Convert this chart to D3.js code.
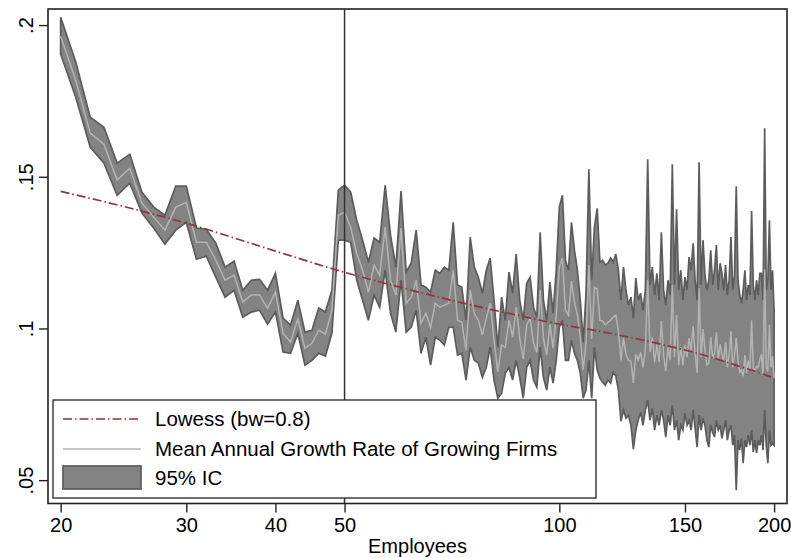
<!DOCTYPE html>
<html>
<head>
<meta charset="utf-8">
<style>
  body { margin: 0; background: #fff; }
  svg text { font-family: "Liberation Sans", Arial, Helvetica, sans-serif; fill: #000; }
</style>
</head>
<body>
<script src="https://d3js.org/d3.v7.min.js"></script>
<script>
// employees 20..200 (one point per firm size)
const employees = d3.range(20, 201)

// upper bound of 95% CI
const ciUpper = [
  .2026, .1878, .1696, .1663, .1545, .1574, .1449, .1400, .1373, .1469,
  .1469, .1331, .1327, .1281, .1202, .1222, .1126, .1159, .1162, .1126,
  .1182, .1034, .1011, .1093, .0988, .0994, .1067, .1054, .1126, .1456,
  .1472, .1449, .1357, .1291, .1218, .1298, .1284, .1472, .1307, .1202,
  .1453, .1186, .1215, .1324, .1143, .1136, .1120, .1192, .1182, .1202,
  .1192, .1350, .1143, .1136, .1027, .1301, .1202, .1169, .1116, .1192,
  .1232, .1093, .0938, .1103, .1027, .1186, .1116, .1245, .1093, .1027,
  .1149, .1169, .1070, .1037, .1317, .1093, .1027, .1153, .1050, .1192,
  .1400, .1439, .1225, .1192, .1350, .1258, .1192, .1093, .0955, .1116,
  .1525, .1159, .1334, .1396, .1218, .1225, .1209, .1215, .1232, .1218,
  .1245, .1192, .1093, .1202, .1126, .1077, .1103, .1034, .1166, .1093,
  .1116, .1060, .1126, .1558, .1143, .1202, .1110, .1182, .1093, .1317,
  .1126, .1077, .1159, .1110, .1541, .1143, .1393, .1126, .1192, .1093,
  .1169, .1126, .1235, .1192, .1281, .1159, .1093, .1548, .1143, .1291,
  .1176, .1126, .1159, .1258, .1143, .1192, .1275, .1126, .1215, .1182,
  .1126, .1209, .1110, .1159, .1301, .1126, .1176, .1469, .1159, .1110,
  .1083, .1126, .1192, .1093, .1143, .1110, .1387, .1143, .1093, .1159,
  .1110, .1182, .1182, .1093, .1660, .1126, .1159, .1357, .1126, .1192,
  .1054
]

// lower bound of 95% CI
const ciLower = [
  .1904, .1762, .1598, .1545, .1439, .1479, .1380, .1331, .1278, .1324,
  .1350, .1228, .1238, .1169, .1103, .1126, .1037, .1054, .1060, .1014,
  .1054, .0922, .0918, .0984, .0879, .0895, .0918, .0909, .0984, .1291,
  .1291, .1284, .1159, .1093, .1027, .1110, .1070, .1192, .1050, .0988,
  .1159, .0988, .1004, .1060, .0918, .0971, .0879, .0971, .0961, .0945,
  .1004, .1004, .0912, .0918, .0830, .0938, .0895, .0886, .0839, .0872,
  .0938, .0830, .0770, .0787, .0853, .0872, .0830, .0895, .0839, .0770,
  .0872, .0895, .0830, .0806, .0938, .0839, .0797, .0872, .0820, .0895,
  .1004, .1027, .0895, .0895, .0961, .0918, .0895, .0853, .0770, .0797,
  .0895, .0770, .0938, .0863, .0836, .0823, .0813, .0830, .0820, .0856,
  .0843, .0797, .0694, .0731, .0704, .0714, .0681, .0602, .0665, .0698,
  .0724, .0681, .0731, .0764, .0698, .0737, .0665, .0714, .0681, .0731,
  .0698, .0642, .0714, .0681, .0747, .0665, .0698, .0632, .0681, .0665,
  .0721, .0681, .0698, .0665, .0731, .0671, .0609, .0714, .0665, .0704,
  .0681, .0632, .0609, .0681, .0658, .0642, .0698, .0665, .0681, .0638,
  .0665, .0698, .0632, .0665, .0681, .0615, .0648, .0467, .0632, .0599,
  .0638, .0556, .0632, .0609, .0648, .0615, .0665, .0592, .0632, .0589,
  .0632, .0615, .0648, .0599, .0731, .0615, .0556, .0665, .0615, .0622,
  .0615
]

// mean annual growth rate of growing firms
const growthMean = [
  .1963, .1818, .1644, .1607, .1489, .1528, .1413, .1367, .1324, .1400,
  .1416, .1284, .1284, .1225, .1159, .1176, .1087, .1110, .1110, .1067,
  .1120, .0984, .0955, .1031, .0935, .0951, .0994, .0981, .1060, .1373,
  .1383, .1334, .1248, .1192, .1120, .1209, .1176, .1334, .1159, .1110,
  .1331, .1083, .1103, .1159, .1017, .1050, .1004, .1083, .1070, .1077,
  .1083, .1192, .1027, .1021, .0928, .1126, .1050, .1027, .0978, .1034,
  .1083, .0961, .0856, .0945, .0938, .1027, .0971, .1070, .0968, .0899,
  .1011, .1034, .0951, .0922, .1126, .0968, .0912, .1014, .0935, .1044,
  .1202, .1232, .1060, .1044, .1156, .1087, .1044, .0971, .0863, .0955,
  .1209, .0965, .1136, .1130, .1027, .1024, .1011, .1021, .1027, .1037,
  .1044, .0994, .0895, .0968, .0915, .0895, .0892, .0820, .0915, .0895,
  .0922, .0872, .0928, .1159, .0922, .0971, .0889, .0948, .0889, .1024,
  .0912, .0859, .0938, .0895, .1143, .0905, .1044, .0879, .0938, .0879,
  .0945, .0905, .0968, .0928, .1008, .0915, .0853, .1133, .0905, .0998,
  .0928, .0879, .0886, .0971, .0902, .0918, .0988, .0895, .0948, .0912,
  .0895, .0955, .0872, .0912, .0991, .0872, .0912, .0968, .0895, .0856,
  .0863, .0843, .0912, .0853, .0895, .0863, .1027, .0869, .0863, .0876,
  .0872, .0899, .0915, .0846, .1195, .0872, .0859, .1011, .0872, .0909,
  .0836
]

// lowess fit (bw=0.8), read every 10 employees
const lowessX = [20, 30, 40, 50, 60, 70, 80, 90, 100, 110, 120, 130, 140, 150, 160, 170, 180, 190, 200]
const lowessY = [.1452, .1347, .1255, .1185, .1135, .1095, .1063, .1037, .1014, .0997,
                 .0980, .0963, .0946, .0929, .0911, .0892, .0873, .0855, .0836]

const xTicks = [20, 30, 40, 50, 100, 150, 200]
const yTicks = [.05, .1, .15, .2]
const yTickLabels = ['.05', '.1', '.15', '.2']
const legendLabels = ['Lowess (bw=0.8)', 'Mean Annual Growth Rate of Growing Firms', '95% IC']
const cutoff = 50

const w = 791
const h = 558
const pLeft = 48, pRight = 787, pTop = 9, pBottom = 503.5

const bandFill = '#838383'
const bandLine = '#5c5c5c'
const meanColor = '#b3b3b3'
const lowessColor = '#90353b'

const svg = d3.select('body').append('svg')
    .attr('width', w)
    .attr('height', h)

const xScale = d3.scaleLog()
    .domain([19.2, 208.5])
    .range([pLeft, pRight])

const yScale = d3.scaleLinear()
    .domain([0.0423, 0.2053])
    .range([pBottom, pTop])

const rows = employees.map((n, i) => ({n: n, lo: ciLower[i], hi: ciUpper[i], m: growthMean[i]}))

// 95% CI band
const area = d3.area()
    .x(d => xScale(d.n))
    .y0(d => yScale(d.lo))
    .y1(d => yScale(d.hi))

svg.append('path')
    .datum(rows)
    .attr('d', area)
    .attr('fill', bandFill)
    .attr('stroke', bandLine)
    .attr('stroke-width', 1.7)

// mean line
svg.append('path')
    .datum(rows)
    .attr('d', d3.line().x(d => xScale(d.n)).y(d => yScale(d.m)))
    .attr('fill', 'none')
    .attr('stroke', meanColor)
    .attr('stroke-width', 1.5)

// lowess
svg.append('path')
    .datum(lowessX.map((x, i) => [x, lowessY[i]]))
    .attr('d', d3.line().x(d => xScale(d[0])).y(d => yScale(d[1])).curve(d3.curveMonotoneX))
    .attr('fill', 'none')
    .attr('stroke', lowessColor)
    .attr('stroke-width', 1.7)
    .attr('stroke-dasharray', '9,3,1.5,3')

// vertical line at 50 employees
svg.append('line')
    .attr('x1', xScale(cutoff)).attr('x2', xScale(cutoff))
    .attr('y1', pTop).attr('y2', pBottom)
    .attr('stroke', '#333')
    .attr('stroke-width', 1.5)

// plot frame
svg.append('rect')
    .attr('x', pLeft).attr('y', pTop)
    .attr('width', pRight - pLeft).attr('height', pBottom - pTop)
    .attr('fill', 'none')
    .attr('stroke', '#222')
    .attr('stroke-width', 1.6)

// axes
const xAxis = svg.append('g')
    .attr('transform', 'translate(0,' + pBottom + ')')
    .call(d3.axisBottom(xScale).tickValues(xTicks).tickFormat(d => d).tickSize(9))
xAxis.select('.domain').remove()
xAxis.selectAll('line').attr('stroke', '#222').attr('stroke-width', 1.4)
xAxis.selectAll('text')
    .attr('y', 28).attr('dy', 0)
    .style('font-size', '20px')

const yAxis = svg.append('g')
    .attr('transform', 'translate(' + pLeft + ',0)')
    .call(d3.axisLeft(yScale).tickValues(yTicks).tickFormat((d, i) => yTickLabels[i]).tickSize(9))
yAxis.select('.domain').remove()
yAxis.selectAll('line').attr('stroke', '#222').attr('stroke-width', 1.4)
yAxis.selectAll('text')
    .attr('x', 0).attr('y', -15).attr('dy', 0)
    .attr('transform', 'rotate(-90)')
    .attr('text-anchor', 'middle')
    .style('font-size', '20px')

svg.append('text')
    .attr('x', (pLeft + pRight) / 2)
    .attr('y', 553)
    .attr('text-anchor', 'middle')
    .style('font-size', '20px')
    .text('Employees')

// legend
const lg = svg.append('g')
lg.append('rect')
    .attr('x', 53).attr('y', 400)
    .attr('width', 543).attr('height', 98)
    .attr('fill', '#fff')
    .attr('stroke', '#222')
    .attr('stroke-width', 1.3)

lg.append('line')
    .attr('x1', 63).attr('x2', 141).attr('y1', 419).attr('y2', 419)
    .attr('stroke', lowessColor).attr('stroke-width', 1.7)
    .attr('stroke-dasharray', '9,3,1.5,3')
lg.append('line')
    .attr('x1', 63).attr('x2', 141).attr('y1', 449).attr('y2', 449)
    .attr('stroke', meanColor).attr('stroke-width', 1.5)
lg.append('rect')
    .attr('x', 63).attr('y', 466).attr('width', 78).attr('height', 23)
    .attr('fill', bandFill).attr('stroke', bandLine).attr('stroke-width', 1.7)

lg.selectAll('text.lab')
    .data(legendLabels)
    .enter()
    .append('text')
    .attr('class', 'lab')
    .attr('x', 155)
    .attr('y', (d, i) => [426, 456, 485][i])
    .style('font-size', '20.5px')
    .text(d => d)
</script>
</body>
</html>
